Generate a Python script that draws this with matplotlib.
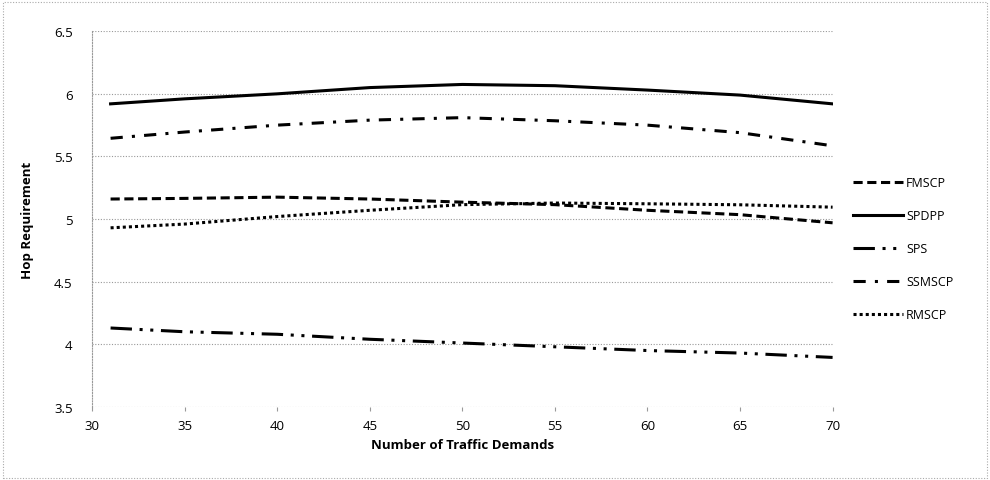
import matplotlib.pyplot as plt
from matplotlib.patches import Rectangle

# values
demands = [31, 35, 40, 45, 50, 55, 60, 65, 70]
fmscp = [5.16, 5.165, 5.175, 5.16, 5.135, 5.115, 5.07, 5.035, 4.97]
spdpp = [5.92, 5.96, 6.0, 6.05, 6.075, 6.065, 6.03, 5.99, 5.92]
sps = [4.13, 4.10, 4.08, 4.04, 4.01, 3.98, 3.95, 3.93, 3.895]
ssmscp = [5.645, 5.695, 5.75, 5.79, 5.81, 5.785, 5.75, 5.69, 5.585]
rmscp = [4.93, 4.96, 5.02, 5.07, 5.115, 5.128, 5.122, 5.114, 5.095]

series = [
    ("FMSCP", fmscp, (0, (3, 1.5))),
    ("SPDPP", spdpp, "-"),
    ("SPS", sps, (0, (7, 2.5, 1, 2.5, 1, 2.5))),
    ("SSMSCP", ssmscp, (0, (4, 3, 1, 3))),
    ("RMSCP", rmscp, (0, (1, 1))),
]

plt.rcParams['font.family'] = ['Open Sans', 'DejaVu Sans']

fig = plt.figure(figsize=(9.9, 4.81), dpi=100)
ax = fig.add_axes([0.093, 0.152, 0.748, 0.781])

for name, vals, ls in series:
    ax.plot(demands, vals, color='black', linestyle=ls, linewidth=2.2, label=name)

ax.set_xlim(30, 70)
ax.set_ylim(3.5, 6.5)
ax.set_xticks(range(30, 71, 5))
ax.set_yticks([3.5, 4, 4.5, 5, 5.5, 6, 6.5])
ax.set_yticklabels(['3.5', '4', '4.5', '5', '5.5', '6', '6.5'])
ax.yaxis.grid(True, color='#999999', linestyle=(0, (1, 1.5)), linewidth=0.8)
ax.tick_params(axis='y', length=0, labelsize=9.5, pad=14)
ax.tick_params(axis='x', length=3, color='#999999', labelsize=9.5, pad=6)
for side in ['top', 'right', 'bottom']:
    ax.spines[side].set_visible(False)
ax.spines['left'].set_color('#999999')
ax.spines['left'].set_linestyle((0, (1, 1.5)))
ax.spines['left'].set_linewidth(0.8)

ax.set_xlabel('Number of Traffic Demands', fontsize=9.5, fontweight='bold', labelpad=4)
ax.set_ylabel('Hop Requirement', fontsize=9.5, fontweight='bold', labelpad=14)

fig.legend(loc='upper left', bbox_to_anchor=(0.862, 0.632), frameon=False,
           fontsize=9, handlelength=4.0, handletextpad=0.2, labelspacing=1.6,
           borderaxespad=0, borderpad=0)

# dotted border around the whole chart area
fig.patches.append(Rectangle((0.003, 0.004), 0.994, 0.99, transform=fig.transFigure,
                             fill=False, edgecolor='#aaaaaa', linestyle=(0, (1, 1.5)),
                             linewidth=0.8))

fig.savefig('out.png', dpi=100)
